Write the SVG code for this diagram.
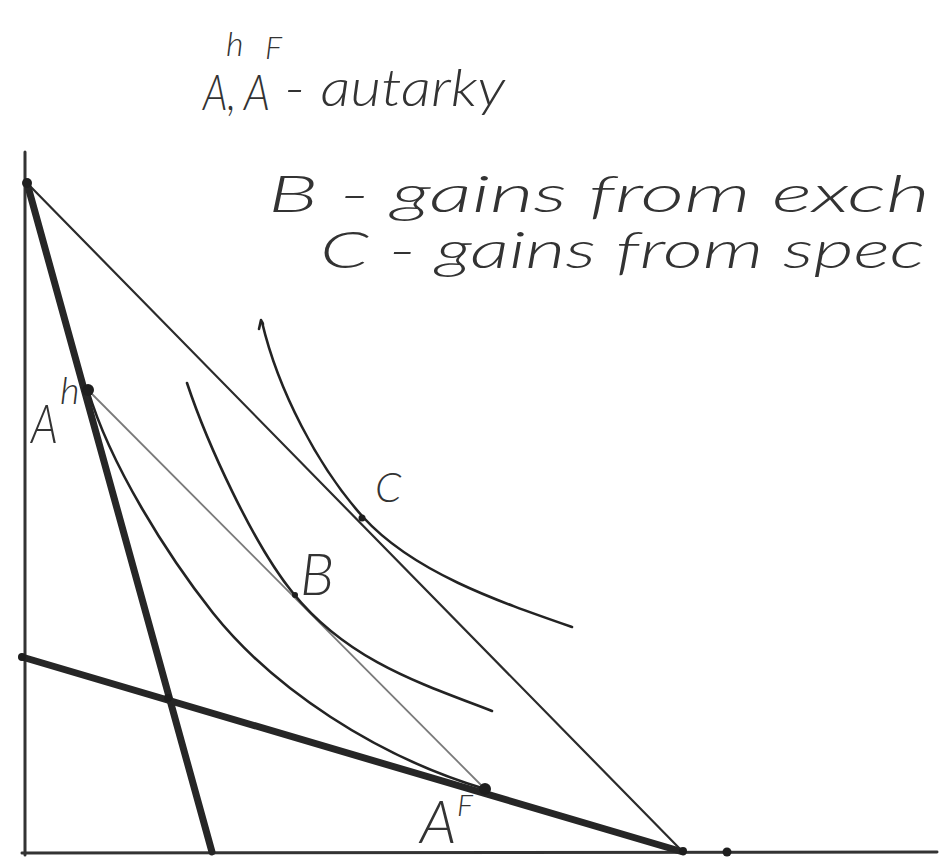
<svg xmlns="http://www.w3.org/2000/svg" width="939" height="865" viewBox="0 0 939 865">
<style>
.ax{stroke:#333;stroke-width:3;fill:none;stroke-linecap:round}
.ppf{stroke:#262626;stroke-width:7;fill:none;stroke-linecap:round}
.trade{stroke:#2b2b2b;stroke-width:2.2;fill:none;stroke-linecap:round}
.grey{stroke:#7a7a7a;stroke-width:1.8;fill:none}
.ic{stroke:#232323;stroke-width:2.6;fill:none;stroke-linecap:round;stroke-linejoin:round}
.pt{fill:#1e1e1e}
.hw{font-family:"Lato","Liberation Sans",sans-serif;font-style:italic;font-weight:300;fill:#333}
</style>
<rect width="939" height="865" fill="#ffffff"/>
<g id="legend">
<text class="hw" x="203" y="110" font-size="50" textLength="33" lengthAdjust="spacingAndGlyphs">A,</text>
<text class="hw" x="226" y="56" font-size="34">h</text>
<text class="hw" x="244" y="110" font-size="50" textLength="26" lengthAdjust="spacingAndGlyphs">A</text>
<text class="hw" x="265" y="59" font-size="32">F</text>
<text class="hw" x="284" y="106" font-size="52" textLength="221" lengthAdjust="spacingAndGlyphs">- autarky</text>
<text class="hw" x="268" y="212" font-size="52" textLength="662" lengthAdjust="spacingAndGlyphs">B - gains from exch</text>
<text class="hw" x="320" y="268" font-size="52" textLength="605" lengthAdjust="spacingAndGlyphs">C - gains from spec</text>
</g>
<g id="axes">
<path class="ax" d="M25,152 L25,855"/>
<path class="ax" d="M22,853 L937,852"/>
</g>
<g id="connectors">
<path id="home-ppf" class="ppf" d="M27,183 L212,852"/>
<path id="foreign-ppf" class="ppf" stroke-width="6" d="M22,657 L683,852"/>
<path id="trade-line" class="trade" d="M27,183 L683,852"/>
<path id="autarky-line" class="grey" d="M88,390 L485,789"/>
</g>
<g id="indifference-curves">
<path id="ic-autarky" class="ic" d="M88,390 C110,465 168,556 213,613 C273,688 375,756 485,789"/>
<path id="ic-B" class="ic" d="M187,383 C207,443 253,544 293,593 C348,661 422,684 492,711"/>
<path id="ic-C" class="ic" d="M262,322 C278,390 318,467 363,517 C413,572 497,601 572,627"/>
<path class="ic" stroke-width="1.8" d="M259,329 L261,320 L263,324"/>
</g>
<g id="points">
<circle class="pt" cx="27" cy="183" r="5"/>
<circle class="pt" cx="88" cy="390" r="6"/>
<circle class="pt" cx="485" cy="789" r="6"/>
<circle class="pt" cx="683" cy="851" r="4"/>
<circle class="pt" cx="727" cy="852" r="4.5"/>
<circle class="pt" cx="168" cy="698" r="4"/>
<circle class="pt" cx="22" cy="657" r="4"/>
<circle class="pt" cx="362" cy="518" r="3.5"/>
<circle class="pt" cx="295" cy="595" r="3"/>
</g>
<g id="labels">
<g id="label-Ah"><text class="hw" x="31" y="443" font-size="54" textLength="27" lengthAdjust="spacingAndGlyphs">A</text><text class="hw" x="60" y="404" font-size="38">h</text></g>
<g id="label-B"><text class="hw" x="300" y="595" font-size="58">B</text></g>
<g id="label-C"><text class="hw" x="375" y="502" font-size="42">C</text></g>
<g id="label-AF"><text class="hw" x="420" y="843" font-size="60">A</text><text class="hw" x="457" y="816" font-size="30">F</text></g>
</g>
</svg>
